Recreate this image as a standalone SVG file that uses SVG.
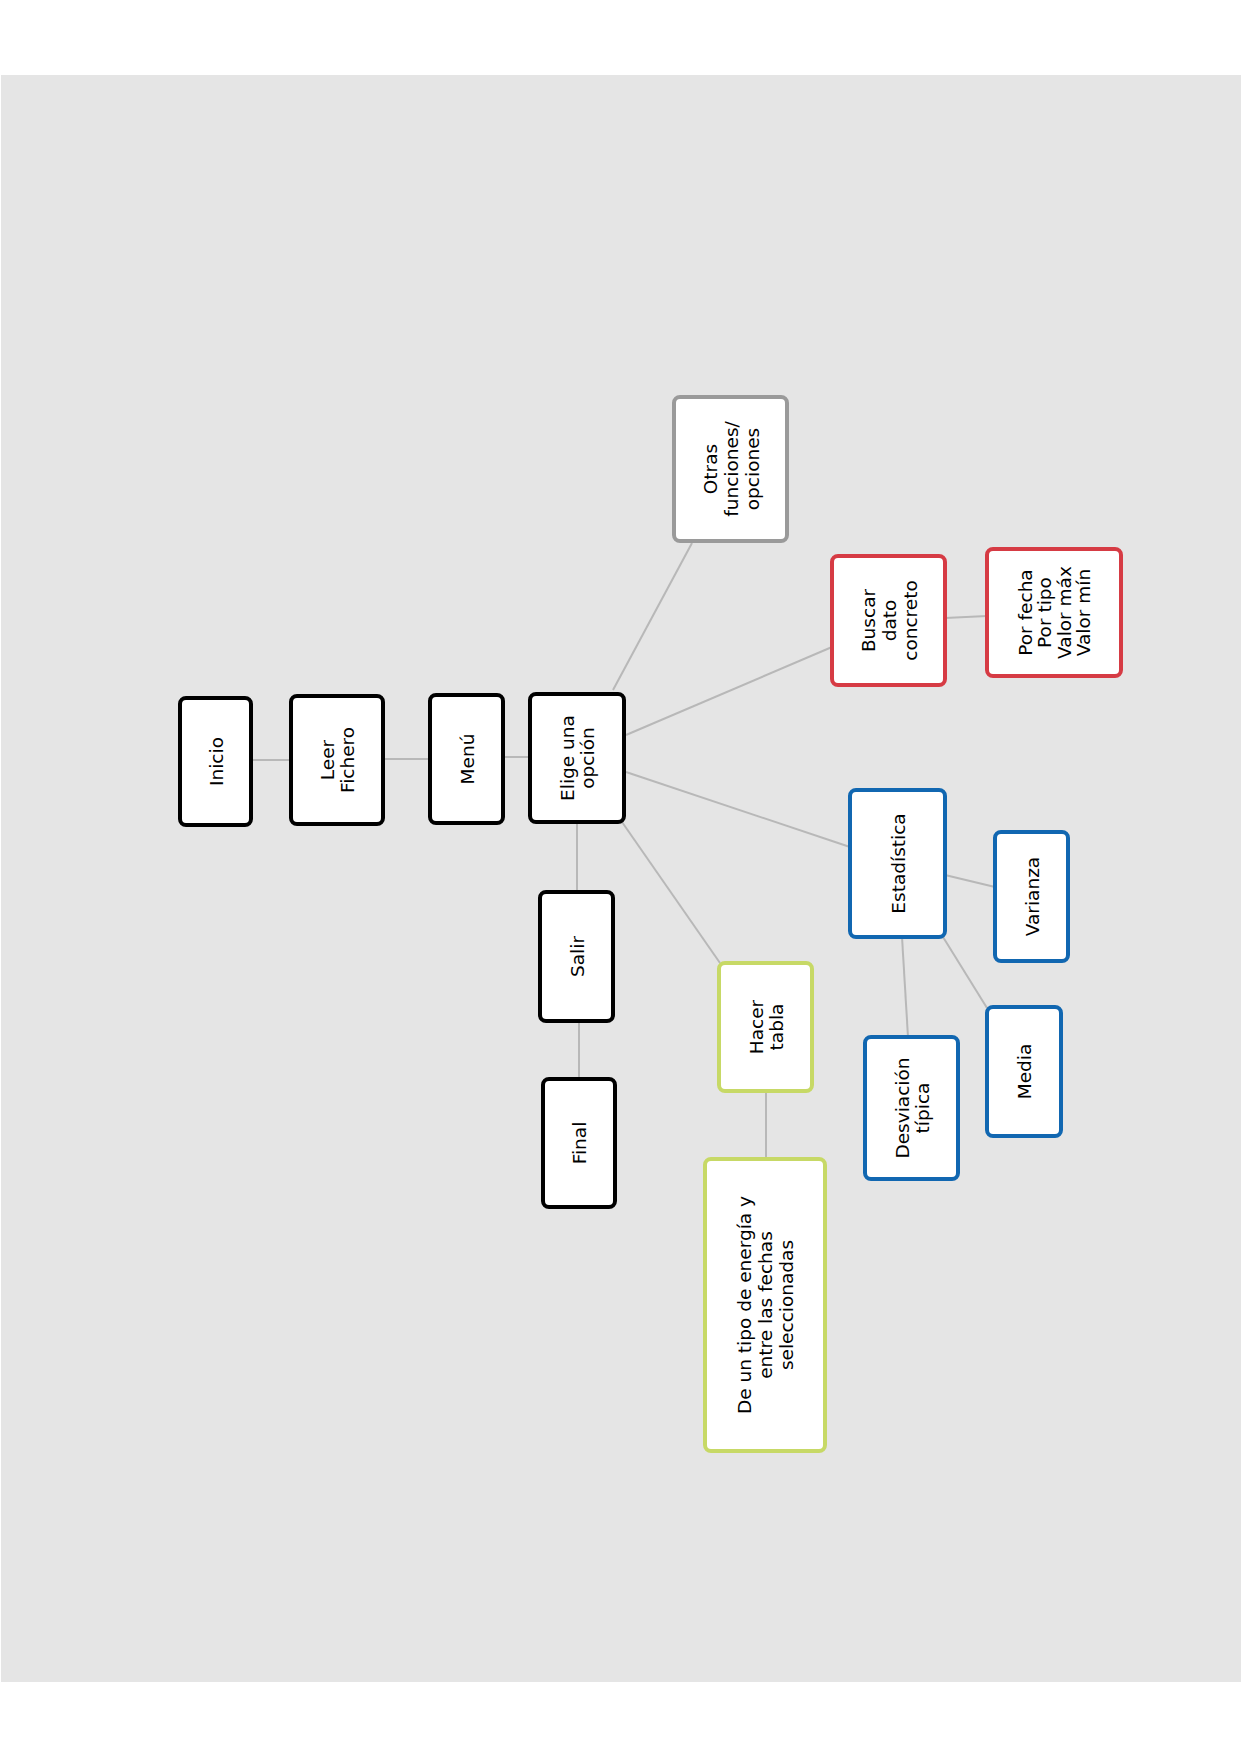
<svg xmlns="http://www.w3.org/2000/svg" width="1241" height="1755" viewBox="0 0 1241 1755">
<style>
.box{fill:#fff;stroke-width:4;}
.k{stroke:#000;}
.g{stroke:#9a9a9a;}
.r{stroke:#d63b44;}
.b{stroke:#1167b1;}
.l{stroke:#c7d966;}
.t{font-family:"DejaVu Sans","Open Sans",sans-serif;font-size:18.5px;fill:#000;text-anchor:middle;}
.c line{stroke:#b8b8b8;stroke-width:2;}
</style>
<rect x="0" y="0" width="1241" height="1755" fill="#fff"/>
<rect x="1" y="75" width="1240" height="1607" fill="#e5e5e5"/>
<g class="c" id="connectors">
<line x1="251" y1="760" x2="291" y2="760"/>
<line x1="383" y1="759" x2="430" y2="759"/>
<line x1="503" y1="757" x2="530" y2="757"/>
<line x1="613" y1="690" x2="692" y2="543"/>
<line x1="626" y1="735" x2="832" y2="647"/>
<line x1="945" y1="618" x2="987" y2="616"/>
<line x1="626" y1="772" x2="850" y2="847"/>
<line x1="945" y1="875" x2="995" y2="887"/>
<line x1="902" y1="937" x2="908" y2="1037"/>
<line x1="943" y1="937" x2="987" y2="1008"/>
<line x1="577" y1="822" x2="577" y2="892"/>
<line x1="579" y1="1021" x2="579" y2="1079"/>
<line x1="622" y1="822" x2="720" y2="963"/>
<line x1="766" y1="1091" x2="766" y2="1159"/>
</g>
<g id="inicio"><rect class="box k" x="180" y="698" width="71" height="127" rx="6"/>
<text class="t" transform="translate(215.5,761.5) rotate(-90)" y="7">Inicio</text></g>
<g id="leer"><rect class="box k" x="291" y="696" width="92" height="128" rx="6"/>
<text class="t" transform="translate(337,760) rotate(-90)"><tspan x="0" y="-3">Leer</tspan><tspan x="0" y="17">Fichero</tspan></text></g>
<g id="menu"><rect class="box k" x="430" y="695" width="73" height="128" rx="6"/>
<text class="t" transform="translate(466.5,759) rotate(-90)" y="7">Menú</text></g>
<g id="elige"><rect class="box k" x="530" y="694" width="94" height="128" rx="6"/>
<text class="t" transform="translate(577,758) rotate(-90)"><tspan x="0" y="-3">Elige una</tspan><tspan x="0" y="17">opción</tspan></text></g>
<g id="otras"><rect class="box g" x="674" y="397" width="113" height="144" rx="6"/>
<text class="t" transform="translate(730.5,469) rotate(-90)"><tspan x="0" y="-14">Otras</tspan><tspan x="0" y="7">funciones/</tspan><tspan x="0" y="28">opciones</tspan></text></g>
<g id="buscar"><rect class="box r" x="832" y="556" width="113" height="129" rx="6"/>
<text class="t" transform="translate(888.5,620.5) rotate(-90)"><tspan x="0" y="-14">Buscar</tspan><tspan x="0" y="7">dato</tspan><tspan x="0" y="28">concreto</tspan></text></g>
<g id="porfecha"><rect class="box r" x="987" y="549" width="134" height="127" rx="6"/>
<text class="t" transform="translate(1054,612.5) rotate(-90)"><tspan x="0" y="-22.2">Por fecha</tspan><tspan x="0" y="-2.7">Por tipo</tspan><tspan x="0" y="16.8">Valor máx</tspan><tspan x="0" y="36.3">Valor mín</tspan></text></g>
<g id="estadistica"><rect class="box b" x="850" y="790" width="95" height="147" rx="6"/>
<text class="t" transform="translate(897.5,863.5) rotate(-90)" y="7">Estadística</text></g>
<g id="varianza"><rect class="box b" x="995" y="832" width="73" height="129" rx="6"/>
<text class="t" transform="translate(1031.5,896.5) rotate(-90)" y="7">Varianza</text></g>
<g id="desviacion"><rect class="box b" x="865" y="1037" width="93" height="142" rx="6"/>
<text class="t" transform="translate(911.5,1108) rotate(-90)"><tspan x="0" y="-3">Desviación</tspan><tspan x="0" y="17">típica</tspan></text></g>
<g id="media"><rect class="box b" x="987" y="1007" width="74" height="129" rx="6"/>
<text class="t" transform="translate(1024,1071.5) rotate(-90)" y="7">Media</text></g>
<g id="salir"><rect class="box k" x="540" y="892" width="73" height="129" rx="6"/>
<text class="t" transform="translate(576.5,956.5) rotate(-90)" y="7">Salir</text></g>
<g id="final"><rect class="box k" x="543" y="1079" width="72" height="128" rx="6"/>
<text class="t" transform="translate(579,1143) rotate(-90)" y="7">Final</text></g>
<g id="hacer"><rect class="box l" x="719" y="963" width="93" height="128" rx="6"/>
<text class="t" transform="translate(765.5,1027) rotate(-90)"><tspan x="0" y="-3">Hacer</tspan><tspan x="0" y="17">tabla</tspan></text></g>
<g id="deuntipo"><rect class="box l" x="705" y="1159" width="120" height="292" rx="6"/>
<text class="t" transform="translate(765,1305) rotate(-90)"><tspan x="0" y="-14">De un tipo de energía y</tspan><tspan x="0" y="7">entre las fechas</tspan><tspan x="0" y="28">seleccionadas</tspan></text></g>
</svg>
